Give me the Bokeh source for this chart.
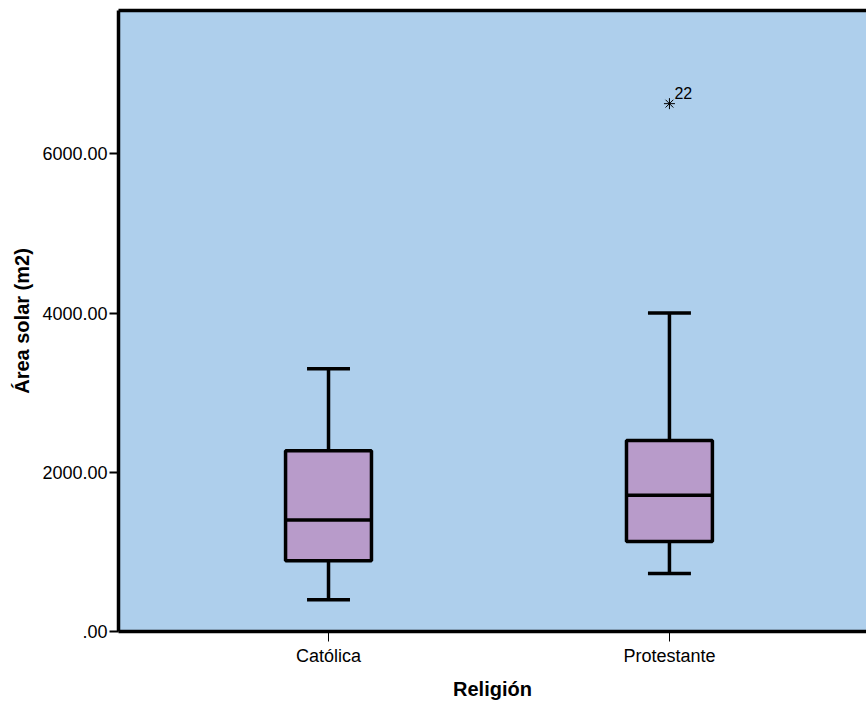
from bokeh.plotting import figure
from bokeh.models import Range1d, FixedTicker, LinearAxis, ColumnDataSource
from bokeh.core.properties import value
from bokeh.embed import file_html
from bokeh.resources import INLINE

# Data
categories = ["Católica", "Protestante"]
whisker_low = [400, 730]
q1 = [890, 1130]
median = [1400, 1710]
q3 = [2270, 2400]
whisker_high = [3300, 4000]
outlier_cat = ["Protestante"]
outlier_val = [6630]
outlier_id = ["22"]
y_ticks = [0, 2000, 4000, 6000]
y_tick_labels = [".00", "2000.00", "4000.00", "6000.00"]

FONT = "Liberation Sans"
BG = "#AECFEC"
BOX = "#B89BCA"

xpos = list(range(len(categories)))
box_w = 0.252
cap_w = 0.126

p = figure(width=866, height=702, output_backend="svg", toolbar_location=None,
           x_range=Range1d(-0.616, 1.578), y_range=Range1d(0, 7800),
           min_border_left=118, min_border_right=0, min_border_top=10,
           min_border_bottom=10)
p.background_fill_color = BG
p.border_fill_color = "white"
p.outline_line_color = None
p.xgrid.visible = False
p.ygrid.visible = False

src = ColumnDataSource(dict(x=xpos, lo=whisker_low, q1=q1, med=median, q3=q3, hi=whisker_high,
                            cl=[v - cap_w / 2 for v in xpos], cr=[v + cap_w / 2 for v in xpos],
                            bl=[v - box_w / 2 for v in xpos], br=[v + box_w / 2 for v in xpos]))

# whiskers
p.segment(x0="x", y0="q3", x1="x", y1="hi", source=src, line_color="black", line_width=3.5)
p.segment(x0="x", y0="lo", x1="x", y1="q1", source=src, line_color="black", line_width=3.5)
p.segment(x0="cl", y0="hi", x1="cr", y1="hi", source=src, line_color="black", line_width=3.5)
p.segment(x0="cl", y0="lo", x1="cr", y1="lo", source=src, line_color="black", line_width=3.5)
# boxes
p.vbar(x="x", width=box_w, bottom="q1", top="q3", source=src, fill_color=BOX,
       line_color="black", line_width=3.5)
p.segment(x0="bl", y0="med", x1="br", y1="med", source=src, line_color="black", line_width=3.5)

# outlier
ox = [categories.index(c) for c in outlier_cat]
p.scatter(x=ox, y=outlier_val, marker="asterisk", size=11, line_color="black", line_width=1)
p.text(x=ox, y=outlier_val, text=outlier_id, x_offset=5, y_offset=-5,
       text_font=value(FONT), text_font_size="16px", text_color="black",
       text_baseline="bottom", text_align="left")

# axes
p.xaxis.ticker = FixedTicker(ticks=xpos)
p.xaxis.major_label_overrides = {i: c for i, c in enumerate(categories)}
p.xaxis.axis_label = "Religión"
p.yaxis.ticker = FixedTicker(ticks=y_ticks)
p.yaxis.major_label_overrides = {t: l for t, l in zip(y_ticks, y_tick_labels)}
p.yaxis.axis_label = "Área solar (m2)"

for ax in (p.xaxis[0], p.yaxis[0]):
    ax.axis_line_width = 3.5
    ax.axis_line_color = "black"
    ax.minor_tick_line_color = None
    ax.major_tick_in = 0
    ax.major_label_text_font = FONT
    ax.major_label_text_font_size = "18px"
    ax.major_label_text_color = "black"
    ax.axis_label_text_font = FONT
    ax.axis_label_text_font_size = "20px"
    ax.axis_label_text_font_style = "bold"
    ax.axis_label_text_color = "black"

p.xaxis.major_tick_out = 10
p.xaxis.major_tick_line_width = 1
p.xaxis.major_label_standoff = 4
p.xaxis.axis_label_standoff = 9
p.yaxis.major_tick_out = 9
p.yaxis.major_tick_line_width = 2
p.yaxis.major_label_standoff = 2
p.yaxis.axis_label_standoff = 6

top_axis = LinearAxis(ticker=FixedTicker(ticks=[]), axis_line_width=3.5, axis_line_color="black",
                      major_tick_line_color=None, minor_tick_line_color=None,
                      major_label_text_font_size="0px")
p.add_layout(top_axis, "above")

open("out.html", "w").write(file_html(p, INLINE))
